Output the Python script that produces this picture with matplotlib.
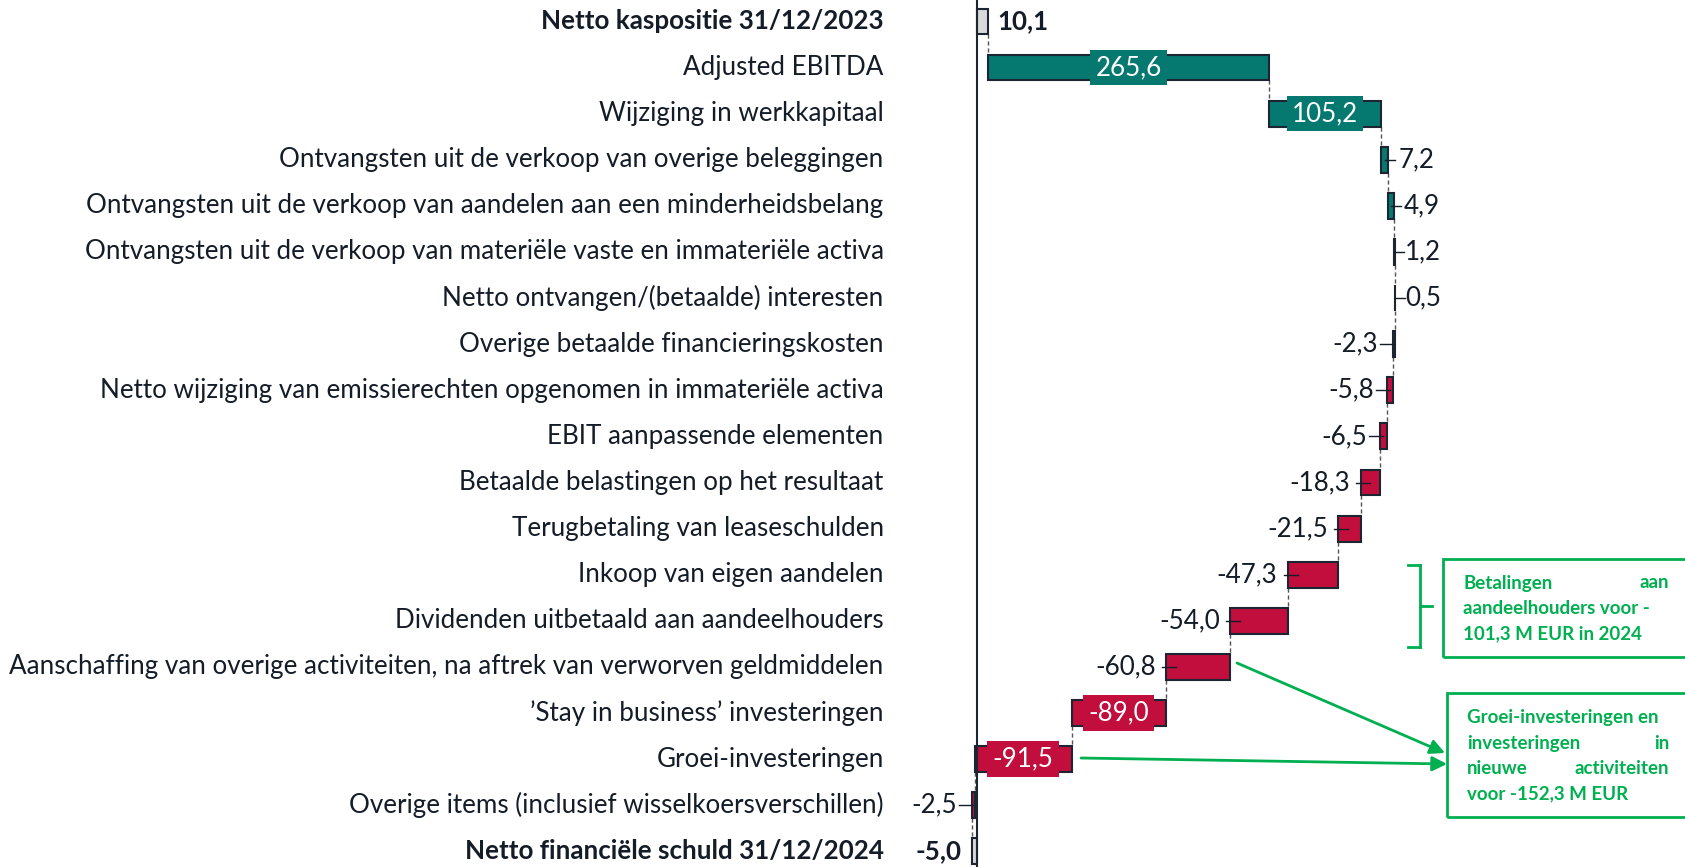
import matplotlib.pyplot as plt
from matplotlib.lines import Line2D
from matplotlib.patches import Rectangle

plt.rcParams['font.family'] = ['Lato', 'DejaVu Sans']

categories = [
    "Netto kaspositie 31/12/2023",
    "Adjusted EBITDA",
    "Wijziging in werkkapitaal",
    "Ontvangsten uit de verkoop van overige beleggingen",
    "Ontvangsten uit de verkoop van aandelen aan een minderheidsbelang",
    "Ontvangsten uit de verkoop van materiële vaste en immateriële activa",
    "Netto ontvangen/(betaalde) interesten",
    "Overige betaalde financieringskosten",
    "Netto wijziging van emissierechten opgenomen in immateriële activa",
    "EBIT aanpassende elementen",
    "Betaalde belastingen op het resultaat",
    "Terugbetaling van leaseschulden",
    "Inkoop van eigen aandelen",
    "Dividenden uitbetaald aan aandeelhouders",
    "Aanschaffing van overige activiteiten, na aftrek van verworven geldmiddelen",
    "’Stay in business’ investeringen",
    "Groei-investeringen",
    "Overige items (inclusief wisselkoersverschillen)",
    "Netto financiële schuld 31/12/2024",
]
values = [10.1, 265.6, 105.2, 7.2, 4.9, 1.2, 0.5, -2.3, -5.8, -6.5, -18.3,
          -21.5, -47.3, -54.0, -60.8, -89.0, -91.5, -2.5, -5.0]
is_total = [True] + [False] * 17 + [True]

note_shareholders = ["Betalingen aan", "aandeelhouders voor -", "101,3 M EUR in 2024"]
note_growth = ["Groei-investeringen en", "investeringen in", "nieuwe activiteiten",
               "voor -152,3 M EUR"]

TEAL = "#05786F"
RED = "#C20E3C"
GREY = "#D9D9DB"
EDGE = "#1c2633"
TXT = "#141c28"
GREEN = "#00B050"

W, H = 1685, 867
fig = plt.figure(figsize=(W / 100, H / 100), dpi=100)
ax = fig.add_axes([0, 0, 1, 1])
px = 1 / 1.06  # data units per pixel
ax.set_xlim(-977 * px, (W - 977) * px)
ax.set_ylim(18.34, -0.466)
ax.axis('off')

bh = 0.56
fs = 18.7
running = 0
ends = []
for i, (cat, v, tot) in enumerate(zip(categories, values, is_total)):
    if tot:
        start = 0
        running = v
        color = GREY
    else:
        start = running
        running = running + v
        color = TEAL if v > 0 else RED
    left, right = min(start, running), max(start, running)
    center = (left + right) / 2
    ax.barh(i, right - left, left=left, height=bh, color=color,
            edgecolor=EDGE, linewidth=1.5, zorder=3)
    ends.append(running)

    weight = 'bold' if tot else 'normal'
    ax.text(-88, i, cat, ha='right', va='center', fontsize=fs,
            color=TXT, fontweight=weight)

    lab = f"{v:.1f}".replace('.', ',')
    if abs(v) > 80:
        ax.text(center, i, lab, ha='center', va='center',
                fontsize=fs, color='white', zorder=4,
                bbox=dict(boxstyle='square,pad=0.2', fc=color, ec='none'))
    elif v > 0:
        ax.text(right + 10 * px, i, lab, ha='left', va='center',
                fontsize=fs, color=TXT, fontweight=weight)
        if not tot:
            t0 = max(right - 5 * px, center)
            ax.plot([t0, t0 + 10 * px], [i, i], color=TXT, lw=1, zorder=4)
    else:
        if tot:
            ax.text(left - 10 * px, i, lab, ha='right', va='center',
                    fontsize=fs, color=TXT, fontweight=weight)
        else:
            t1 = min(left + 10 * px, center)
            t0 = t1 - 14 * px
            ax.plot([t0, t1], [i, i], color=TXT, lw=1, zorder=4)
            ax.text(min(left - 10 * px, t0 - 2 * px), i, lab, ha='right',
                    va='center', fontsize=fs, color=TXT)

# connectors
for i in range(len(values) - 1):
    ax.plot([ends[i], ends[i]], [i + bh / 2, i + 1 - bh / 2], color='#555555',
            lw=1, dashes=(3, 2), zorder=2)

ax.axvline(0, color=EDGE, lw=1.5, zorder=5)


def fx(x):
    return x / W


def fy(y):
    return 1 - y / H


# annotation boxes
for (x0, y0, x1, y1) in [(1443, 559, 1700, 657), (1447, 693, 1700, 817)]:
    fig.patches.append(Rectangle((fx(x0), fy(y1)), fx(x1 - x0), (y1 - y0) / H,
                                 transform=fig.transFigure, fill=False,
                                 edgecolor=GREEN, lw=2))

nfs = 13.5


def justified(lines, xl, xr, y0, dy, justify):
    for k, line in enumerate(lines):
        y = fy(y0 + k * dy)
        words = line.split(' ')
        if justify[k] and len(words) == 2:
            fig.text(fx(xl), y, words[0], ha='left', va='center', fontsize=nfs,
                     color=GREEN, fontweight='bold')
            fig.text(fx(xr), y, words[1], ha='right', va='center', fontsize=nfs,
                     color=GREEN, fontweight='bold')
        else:
            fig.text(fx(xl), y, line, ha='left', va='center', fontsize=nfs,
                     color=GREEN, fontweight='bold')


justified(note_shareholders, 1463, 1669, 583, 25.5, [True, False, False])
justified(note_growth, 1467, 1669, 718, 25.3, [False, True, True, False])

# bracket
bx, bt, bb, bm = 1420, 565, 647, 606
for xs, ys in [([1408, bx], [bt, bt]), ([bx, bx], [bt, bb]),
               ([1408, bx], [bb, bb]), ([bx, 1432], [bm, bm])]:
    fig.add_artist(Line2D([fx(x) for x in xs], [fy(y) for y in ys],
                          transform=fig.transFigure, color=GREEN, lw=2))

# arrows
for (x0, y0, x1, y1) in [(1237, 663, 1445, 753), (1081, 758, 1447, 764)]:
    ax.annotate('', xy=(fx(x1), fy(y1)), xytext=(fx(x0), fy(y0)),
                xycoords='figure fraction', textcoords='figure fraction',
                arrowprops=dict(arrowstyle='-|>', color=GREEN, lw=2,
                                mutation_scale=22, shrinkA=0, shrinkB=0))

fig.savefig("out.png", dpi=100)
